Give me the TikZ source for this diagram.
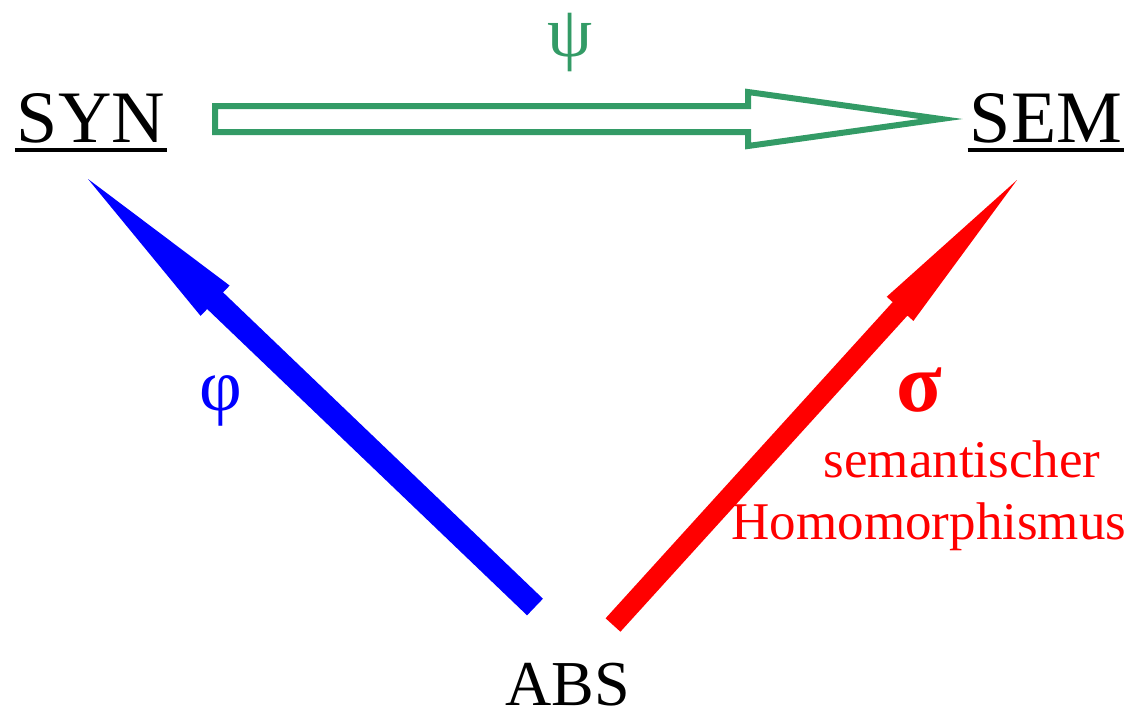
\documentclass[tikz,border=0pt]{standalone}
\usepackage{fontspec}
\setmainfont{Liberation Serif}
\usetikzlibrary{calc}
\definecolor{psigreen}{RGB}{51,155,102}
\begin{document}
\begin{tikzpicture}[x=1pt,y=-1pt,
  lbl/.style={inner sep=0pt, anchor=base, text depth=0pt},
  bigtxt/.style={font=\fontsize{74}{74}\selectfont},
  ul/.style={line width=3.6pt},
  outlinearrow/.style={draw=psigreen, line width=6pt, line join=miter}
]
\useasboundingbox (0,0) rectangle (1131,712);

% labels
\node[lbl, bigtxt] (syn) at (91,142) {SYN};
\node[lbl, bigtxt] (sem) at (1046,142) {SEM};
\node[lbl, font=\fontsize{64}{64}\selectfont] (abs) at (568,705) {ABS};

\draw[ul] ([yshift=-8pt,xshift=-2pt]syn.base west) -- ([yshift=-8pt,xshift=2pt]syn.base east);
\draw[ul] ([yshift=-8pt,xshift=-2pt]sem.base west) -- ([yshift=-8pt,xshift=2pt]sem.base east);

\node[lbl, psigreen, font=\fontsize{72}{72}\selectfont] (psi) at (570,56) {ψ};
\node[lbl, blue, font=\fontsize{74}{74}\selectfont] (phi) at (221,410) {φ};
\node[lbl, red, font=\fontsize{84}{84}\selectfont\bfseries] (sigma) at (919,411) {σ};
\node[lbl, red, font=\fontsize{53}{53}\selectfont] (sem1) at (962,477) {semantischer};
\node[lbl, red, font=\fontsize{53}{53}\selectfont] (sem2) at (929,539) {Homomorphismus};

% connector end points
\coordinate (bt) at (535,607);
\coordinate (bh) at (88,179);
\coordinate (rt) at (613,625);
\coordinate (rh) at (1017,180);
\coordinate (gs) at (215,119);
\coordinate (ge) at (941,119);

% blue arrow phi: ABS -> SYN
\coordinate (bb) at ($(bh)!176pt!(bt)$);
\fill[blue] ($(bt)!11.5pt!90:(bh)$) -- ($(bb)!11.5pt!-90:(bt)$) -- ($(bb)!21pt!-90:(bt)$) -- (bh)
  -- ($(bb)!21pt!90:(bt)$) -- ($(bb)!11.5pt!90:(bt)$) -- ($(bt)!11.5pt!-90:(bh)$) -- cycle;

% red arrow sigma: ABS -> SEM
\coordinate (rb) at ($(rh)!174pt!(rt)$);
\fill[red] ($(rt)!10pt!90:(rh)$) -- ($(rb)!10pt!-90:(rt)$) -- ($(rb)!18pt!-90:(rt)$) -- (rh)
  -- ($(rb)!18pt!90:(rt)$) -- ($(rb)!10pt!90:(rt)$) -- ($(rt)!10pt!-90:(rh)$) -- cycle;

% green outline arrow psi: SYN -> SEM
\draw[outlinearrow] ($(gs)+(0,-13)$) -- ($(ge)+(-193,-13)$) -- ($(ge)+(-193,-27)$) -- (ge)
  -- ($(ge)+(-193,27)$) -- ($(ge)+(-193,13)$) -- ($(gs)+(0,13)$) -- cycle;
\end{tikzpicture}
\end{document}
